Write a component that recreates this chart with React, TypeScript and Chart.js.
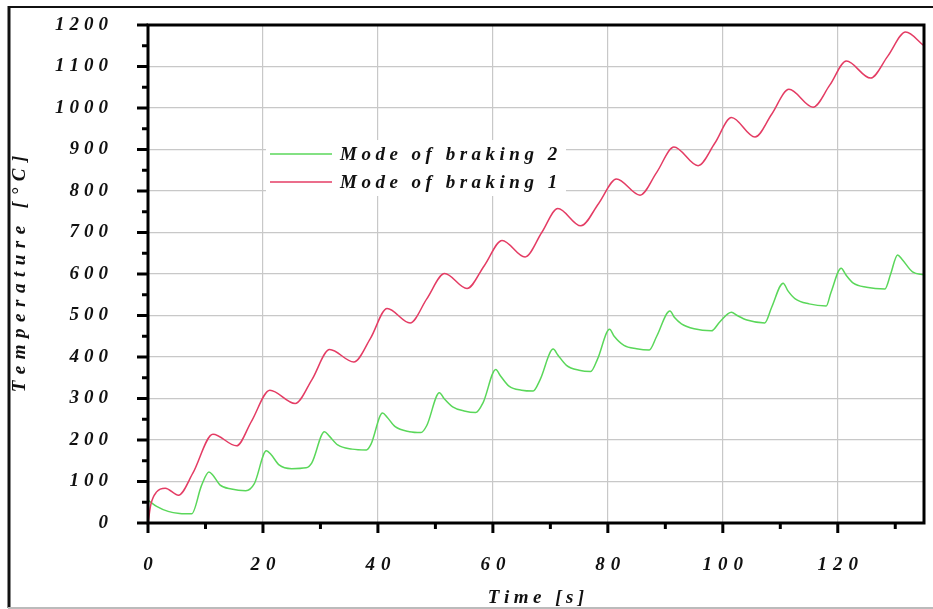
import React, { useEffect, useRef } from "react";
import { Chart, registerables } from "chart.js";

Chart.register(...registerables);

// ---- data ----
const timeRed = [0, 0.5, 1.5, 3, 5.3, 7.8, 11.3, 15.4, 18, 21.2, 25.6, 28.5, 31.6, 35.8, 38.7, 41.6, 45.6, 48.5, 51.6, 55.5, 58.5, 61.6, 65.6, 68.5, 71.3, 75.3, 78.4, 81.5, 85.6, 88.5, 91.5, 95.7, 98.6, 101.5, 105.6, 108.5, 111.5, 115.7, 118.6, 121.5, 125.7, 128.7, 131.8, 135];
const tempRed = [0, 45, 75, 84, 67, 120, 214, 186, 245, 320, 288, 345, 418, 388, 445, 517, 482, 540, 601, 565, 620, 681, 641, 700, 758, 716, 770, 829, 790, 845, 906, 861, 915, 977, 930, 985, 1045, 1002, 1055, 1113, 1072, 1125, 1183, 1150];

const timeGreen = [0, 1.5, 3.5, 5.5, 7.6, 9.3, 10.6, 11.3, 12.5, 14.5, 17, 18.5, 20.6, 21.4, 22.8, 25, 27.5, 28.5, 30.7, 31.5, 33, 35.5, 38, 38.8, 40.8, 41.6, 43, 45.5, 47.5, 48.5, 50.7, 51.5, 53, 55, 57, 58.3, 60.5, 61.3, 62.8, 65, 67, 68.2, 70.5, 71.3, 72.8, 75, 77, 78.2, 80.3, 81.1, 82.8, 85, 87.2, 88.5, 90.8, 91.6, 92.8, 95, 98, 99.5, 101.5, 102.5, 104.2, 107.3, 108.5, 110.5, 111.3, 112.6, 115, 118, 118.8, 120.6, 121.4, 122.7, 125, 128.2, 129.2, 130.4, 131.2, 133, 135];
const tempGreen = [55, 40, 28, 23, 22, 90, 123, 115, 92, 82, 78, 95, 174, 165, 140, 131, 133, 145, 220, 210, 188, 178, 176, 190, 265, 255, 232, 220, 218, 235, 314, 300, 280, 270, 266, 290, 370, 355, 330, 320, 318, 345, 419, 405, 380, 368, 365, 395, 467, 450, 428, 420, 417, 450, 511, 495, 480, 468, 463, 485, 508, 500, 489, 482, 520, 578, 560, 540, 528, 523, 555, 614, 598, 578, 568, 564, 600, 646, 635, 605, 598];

const seriesNames = ["Mode of braking 1", "Mode of braking 2"];
const legendOrder = ["Mode of braking 2", "Mode of braking 1"];
const xTitle = "Time [s]";
const yTitle = "Temperature [°C]";
const xMin = 0, xMax = 135, xStep = 20, xMinorStep = 10;
const yMin = 0, yMax = 1200, yStep = 100, yMinorStep = 50;

const RED = "rgb(228,60,100)";
const GREEN = "rgb(90,215,90)";
const FONT_FAMILY = "'Liberation Serif', 'DejaVu Serif', serif";
const FONT = `italic bold 19px ${FONT_FAMILY}`;
const TEXT_COLOR = "#111";

function spacedWidth(ctx: CanvasRenderingContext2D, text: string, ls: number) {
  let w = 0;
  for (const ch of text) w += ctx.measureText(ch).width;
  return w + ls * Math.max(0, [...text].length - 1);
}

function drawSpaced(ctx: CanvasRenderingContext2D, text: string, x: number, y: number, align: "left" | "right" | "center", ls: number) {
  const w = spacedWidth(ctx, text, ls);
  let cx = align === "left" ? x : align === "right" ? x - w : x - w / 2;
  ctx.textAlign = "left";
  ctx.textBaseline = "middle";
  for (const ch of text) {
    ctx.fillText(ch, cx, y);
    cx += ctx.measureText(ch).width + ls;
  }
}

const framePlugin = {
  id: "frame",
  afterDatasetsDraw(chart: any) {
    const { ctx, chartArea, scales } = chart;
    const { left, right, top, bottom } = chartArea;
    const x = scales.x, y = scales.y;
    ctx.save();
    ctx.letterSpacing = "0px";
    ctx.font = FONT;
    // legend box
    ctx.fillStyle = "#fff";
    ctx.fillRect(266, 140, 300, 56);
    const colors: Record<string, string> = { [seriesNames[0]]: RED, [seriesNames[1]]: GREEN };
    legendOrder.forEach((name, i) => {
      const ly = 154 + i * 28;
      ctx.strokeStyle = colors[name];
      ctx.lineWidth = 1.5;
      ctx.beginPath();
      ctx.moveTo(270, ly);
      ctx.lineTo(332, ly);
      ctx.stroke();
      ctx.fillStyle = TEXT_COLOR;
      drawSpaced(ctx, name, 340, ly + 1, "left", 4.5);
    });
    // frame
    ctx.strokeStyle = "#000";
    ctx.lineWidth = 3;
    ctx.strokeRect(left, top, right - left, bottom - top);
    // tick marks
    for (let v = yMin; v <= yMax; v += yMinorStep) {
      const py = y.getPixelForValue(v);
      const len = v % yStep === 0 ? 11 : 6;
      ctx.beginPath();
      ctx.moveTo(left - len, py);
      ctx.lineTo(left, py);
      ctx.stroke();
    }
    for (let v = xMin; v <= xMax; v += xMinorStep) {
      const px = x.getPixelForValue(v);
      const len = v % xStep === 0 ? 10 : 6;
      ctx.beginPath();
      ctx.moveTo(px, bottom);
      ctx.lineTo(px, bottom + len);
      ctx.stroke();
    }
    // tick labels
    ctx.fillStyle = TEXT_COLOR;
    y.ticks.forEach((t: any) => {
      drawSpaced(ctx, String(t.value), 108, y.getPixelForValue(t.value), "right", 5);
    });
    x.ticks.forEach((t: any) => {
      drawSpaced(ctx, String(t.value), x.getPixelForValue(t.value), 565, "center", 6);
    });
    // axis titles
    drawSpaced(ctx, xTitle, (left + right) / 2, 598, "center", 4.5);
    ctx.save();
    ctx.translate(20, (top + bottom) / 2);
    ctx.rotate(-Math.PI / 2);
    drawSpaced(ctx, yTitle, 0, 0, "center", 6.5);
    ctx.restore();
    ctx.restore();
  },
  afterDraw(chart: any) {
    const { ctx, width, height } = chart;
    ctx.save();
    ctx.strokeStyle = "#111";
    ctx.lineWidth = 2;
    ctx.beginPath();
    ctx.moveTo(8, 7);
    ctx.lineTo(width, 7);
    ctx.stroke();
    ctx.lineWidth = 3;
    ctx.beginPath();
    ctx.moveTo(9, 6);
    ctx.lineTo(9, height - 1);
    ctx.stroke();
    ctx.strokeStyle = "#bbb";
    ctx.lineWidth = 2;
    ctx.beginPath();
    ctx.moveTo(8, height - 1);
    ctx.lineTo(width, height - 1);
    ctx.stroke();
    ctx.restore();
  },
};

export default function App() {
  const ref = useRef<HTMLCanvasElement | null>(null);
  useEffect(() => {
    if (!ref.current) return;
    const redPts = timeRed.map((t, i) => ({ x: t, y: tempRed[i] }));
    const greenPts = timeGreen.map((t, i) => ({ x: t, y: tempGreen[i] }));
    const chart = new Chart(ref.current, {
      type: "line",
      data: {
        datasets: [
          { label: seriesNames[0], data: redPts, borderColor: RED, borderWidth: 1.5, pointRadius: 0, cubicInterpolationMode: "monotone", fill: false },
          { label: seriesNames[1], data: greenPts, borderColor: GREEN, borderWidth: 1.5, pointRadius: 0, cubicInterpolationMode: "monotone", fill: false },
        ],
      },
      options: {
        animation: false,
        responsive: true,
        maintainAspectRatio: false,
        layout: { padding: { top: 25, right: 9, left: 0, bottom: 0 } },
        plugins: { legend: { display: false }, tooltip: { enabled: false } },
        scales: {
          x: {
            type: "linear",
            min: xMin,
            max: xMax,
            border: { display: false },
            grid: { color: "#c8c8c8", lineWidth: 1.2, drawTicks: false },
            ticks: { stepSize: xStep, includeBounds: false, display: false },
            afterFit(scale: any) { scale.height = 86; },
          },
          y: {
            type: "linear",
            min: yMin,
            max: yMax,
            border: { display: false },
            grid: { color: "#c8c8c8", lineWidth: 1.2, drawTicks: false },
            ticks: { stepSize: yStep, display: false },
            afterFit(scale: any) { scale.width = 148; },
          },
        },
      },
      plugins: [framePlugin],
    } as any);
    return () => chart.destroy();
  }, []);
  return (
    <div style={{ position: "absolute", left: 0, top: 0, width: 933, height: 609, background: "#fff" }}>
      <canvas ref={ref} />
    </div>
  );
}
